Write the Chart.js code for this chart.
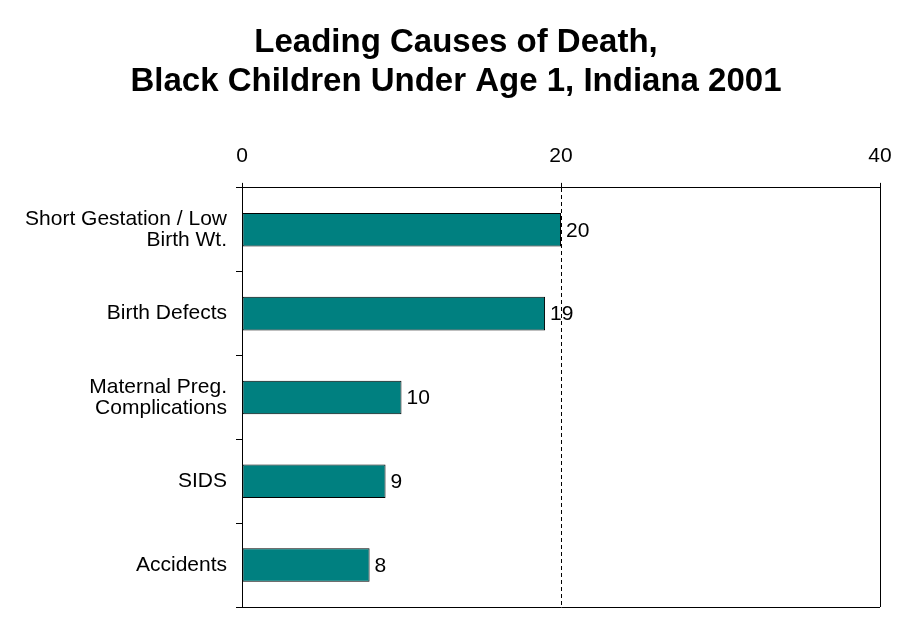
<!DOCTYPE html>
<html>
<head>
<meta charset="utf-8">
<script src="https://cdn.jsdelivr.net/npm/chart.js@4/dist/chart.umd.min.js"></script>
<style>
  html, body { margin: 0; padding: 0; background: #fff; }
  canvas { display: block; }
</style>
</head>
<body>
<canvas id="causesChart" width="912" height="624"></canvas>
<script>
// chart data
const titleLines = ['Leading Causes of Death,', 'Black Children Under Age 1, Indiana 2001']
const causes = [
  ['Short Gestation / Low', 'Birth Wt.'],
  'Birth Defects',
  ['Maternal Preg.', 'Complications'],
  'SIDS',
  'Accidents'
]
const deaths = [20, 19, 10, 9, 8]
const xTicks = [0, 20, 40]

const FONT = "'Liberation Sans', Arial, sans-serif"

// writes the number just past the end of each bar
const valueLabels = {
  id: 'valueLabels',
  afterDatasetsDraw(chart) {
    const ctx = chart.ctx
    const meta = chart.getDatasetMeta(0)
    ctx.save()
    ctx.font = `21px ${FONT}`
    ctx.fillStyle = '#000'
    ctx.textAlign = 'left'
    ctx.textBaseline = 'middle'
    meta.data.forEach((bar, i) => {
      ctx.fillText(String(deaths[i]), bar.x + 5, bar.y + 1)
    })
    ctx.restore()
  }
}

new Chart(document.getElementById('causesChart'), {
  type: 'bar',
  data: {
    labels: causes,
    datasets: [{
      data: deaths,
      backgroundColor: '#008080',
      borderColor: '#000',
      borderWidth: 1,
      borderSkipped: false,
      barPercentage: 0.4,
      categoryPercentage: 1
    }]
  },
  options: {
    indexAxis: 'y',
    responsive: false,
    animation: false,
    layout: { padding: { left: 0, right: 0, top: 0, bottom: 17 } },
    plugins: {
      legend: { display: false },
      tooltip: { enabled: false },
      title: {
        display: true,
        text: titleLines,
        color: '#000',
        font: { family: FONT, size: 33, weight: 'bold', lineHeight: 1.18 },
        padding: { top: 23.5, bottom: 0 }
      }
    },
    scales: {
      x: {
        position: 'top',
        min: 0,
        max: 40,
        afterBuildTicks: (scale) => {
          scale.ticks = xTicks.map(v => ({ value: v }))
        },
        afterFit: (scale) => { scale.height = 86.5 },
        ticks: {
          color: '#000',
          padding: 14.5,
          font: { family: FONT, size: 21, lineHeight: 1.2 }
        },
        grid: {
          color: '#000',
          tickColor: '#000',
          tickLength: 5,
          lineWidth: 1
        },
        border: {
          display: true,
          color: '#000',
          width: 1,
          dash: (ctx) => (ctx.tick && ctx.tick.value === 20 ? [4, 3] : [])
        }
      },
      y: {
        afterFit: (scale) => {
          scale.width = 242
          scale.paddingTop = 0
          scale.paddingBottom = 0
        },
        ticks: {
          color: '#000',
          padding: 9,
          font: { family: FONT, size: 21, lineHeight: 1.02 }
        },
        grid: {
          drawOnChartArea: true,
          // only the first and the closing boundary lines frame the plot
          color: (ctx) => (!ctx.tick || ctx.index === 0 ? '#000' : 'rgba(0,0,0,0)'),
          tickColor: '#000',
          tickLength: 6,
          lineWidth: 1
        },
        border: { display: true, color: '#000', width: 1 }
      },
      // empty right-hand margin so the title stays centred on the page
      spacer: {
        type: 'linear',
        position: 'right',
        grid: { display: false },
        ticks: { display: false },
        border: { display: false },
        afterFit: (scale) => { scale.width = 32 }
      }
    }
  },
  plugins: [valueLabels]
})
</script>
</body>
</html>
